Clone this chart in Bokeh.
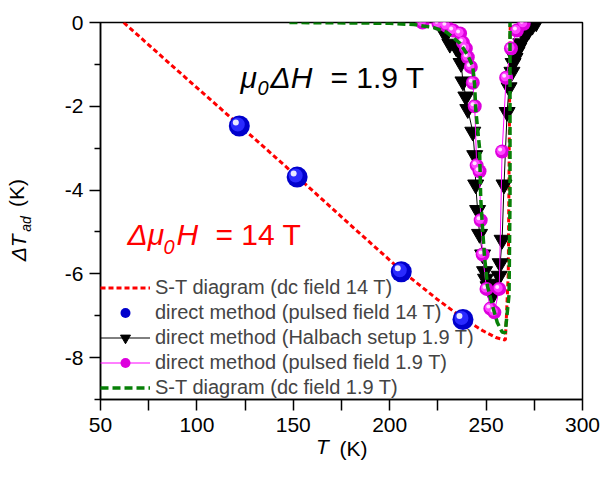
import math
from bokeh.plotting import figure
from bokeh.models import Range1d, Label, Legend, LegendItem, FixedTicker, LinearAxis
from bokeh.embed import file_html
from bokeh.resources import INLINE

# ---------------- data ----------------
# S-T diagram, dc field 14 T
red_T = [62, 90, 122, 152, 180, 206, 225, 238, 248, 255, 260, 261.5, 262, 262.5]
red_dT = [0, -1.15, -2.45, -3.68, -4.85, -5.92, -6.62, -7.06, -7.35, -7.52, -7.58, -6.0, -3.0, 0]

# direct method, pulsed field 14 T
blue_T = [122, 152, 206, 238]
blue_dT = [-2.47, -3.69, -5.95, -7.09]

# direct method, Halbach setup 1.9 T
black_T = [229, 231.2, 234.4, 236.5, 237.0, 238.0, 239.5, 240.5, 243.1, 244.1, 244.6, 245.6,
           246.6, 248.2, 249.2, 249.7, 251.0, 253.3, 254.3, 256.8, 257.3, 258.3, 259.3, 260.9,
           261.9, 263.4, 264.0, 265.0, 266.0, 267.0, 268.0, 270.0, 272.0, 274.0, 276.0]
black_dT = [-0.3, -0.51, -0.59, -0.73, -0.97, -1.41, -1.77, -2.07, -2.61, -3.17, -3.87, -4.48,
            -5.05, -5.54, -5.94, -6.12, -6.3, -6.52, -6.24, -6.05, -5.75, -5.19, -3.87, -2.14,
            -1.55, -1.18, -0.97, -0.85, -0.7, -0.6, -0.5, -0.33, -0.2, -0.08, 0]

# direct method, pulsed field 1.9 T
mag_T = [217, 225.3, 229.4, 232.9, 236.5, 238.0, 239.5, 240.5, 242.1, 243.1, 244.1, 245.1,
         246.6, 247.2, 248.2, 250.2, 252.2, 254.3, 256.8, 258.3, 260.4, 262.9, 266.0, 269.5]
mag_dT = [0, -0.03, -0.08, -0.19, -0.26, -0.48, -0.62, -0.83, -1.06, -1.44, -2.0, -3.41,
          -3.55, -4.72, -5.54, -6.36, -6.83, -6.92, -6.36, -3.08, -1.32, -0.62, -0.19, -0.03]

# S-T diagram, dc field 1.9 T
green_T = [148, 180, 200, 212.6, 222.8, 229.4, 236.5, 240.5, 243.1, 244.1, 244.6, 246.6, 247.2,
           248.2, 249.2, 250.7, 253.3, 255.8, 258.3, 259.9, 261.9, 262.4, 262.4, 262.4]
green_dT = [0, -0.01, -0.02, -0.05, -0.12, -0.23, -0.5, -0.78, -1.05, -1.52, -2.07, -3.0, -4.18,
            -4.95, -5.59, -6.29, -6.76, -7.16, -7.39, -7.41, -6.5, -4.18, -1.84, 0]

x_ticks = [50, 100, 150, 200, 250, 300]
x_minor = [75, 125, 175, 225, 275]
y_ticks = [0, -2, -4, -6, -8]
y_minor = [-1, -3, -5, -7, -9]

labels = ["S-T diagram (dc field 14 T)",
          "direct method (pulsed field 14 T)",
          "direct method (Halbach setup 1.9 T)",
          "direct method (pulsed field 1.9 T)",
          "S-T diagram (dc field 1.9 T)"]

# ---------------- figure ----------------
W, H = 600, 462
BL, BR, BT, BB = 100, 18, 22, 62
X0, X1, Y0, Y1 = 50, 300, -9, 0
FW, FH = W - BL - BR, H - BT - BB
kx = (X1 - X0) / FW   # data per px
ky = (Y1 - Y0) / FH

FONT = "Liberation Sans"

p = figure(width=W, height=H, x_range=Range1d(X0, X1), y_range=Range1d(Y0, Y1),
           output_backend="svg", toolbar_location=None,
           min_border_left=BL, min_border_right=BR, min_border_top=BT, min_border_bottom=BB)
p.xgrid.visible = False
p.ygrid.visible = False
p.outline_line_color = "black"
p.outline_line_width = 1.5
p.background_fill_color = "white"
p.border_fill_color = "white"

p.xaxis.ticker = FixedTicker(ticks=x_ticks, minor_ticks=x_minor)
p.yaxis.ticker = FixedTicker(ticks=y_ticks, minor_ticks=y_minor)
p.xaxis.major_label_overrides = {float(t): str(t) for t in x_ticks}
p.yaxis.major_label_overrides = {float(t): str(t) for t in y_ticks}
for ax in (p.xaxis, p.yaxis):
    ax.axis_line_width = 1.5
    ax.axis_line_color = "black"
    ax.major_tick_line_width = 1.5
    ax.minor_tick_line_width = 1.5
    ax.major_tick_line_color = "black"
    ax.minor_tick_line_color = "black"
    ax.major_tick_in = 0
    ax.minor_tick_in = 0
    ax.major_tick_out = 11
    ax.major_label_text_font = FONT
    ax.major_label_text_font_size = "21px"
    ax.major_label_text_color = "black"
p.xaxis.minor_tick_out = 11
p.yaxis.minor_tick_out = 6
p.xaxis.major_label_standoff = 7
p.yaxis.major_label_standoff = 6

# pixel helpers for text placement
def px2x(px):
    return round(X0 + (px - BL) * kx, 3)

def py2y(py):
    return round(Y1 - (py - BT) * ky, 3)

# ---------------- glyphs ----------------
r_red = p.line(red_T, red_dT, line_color="#ff0000", line_width=3, line_dash="5 3")

r_blue = p.scatter(blue_T, blue_dT, marker="circle", size=21, fill_color="#0000cc", line_color=None)
p.scatter([t - 1.5 * kx for t in blue_T], [v + 1.5 * ky for v in blue_dT], marker="circle",
          size=14, fill_color="#2a2aff", line_color=None)
p.scatter([t - 3.5 * kx for t in blue_T], [v + 3.5 * ky for v in blue_dT], marker="circle",
          size=6, fill_color="#e8e8ff", line_color=None)

r_bl_line = p.line(black_T, black_dT, line_color="black", line_width=1)
r_bl_mk = p.scatter(black_T, black_dT, marker="inverted_triangle", size=16,
                    fill_color="black", line_color="black")

r_mg_line = p.line(mag_T, mag_dT, line_color="#ff00ff", line_width=1)
r_mg_mk = p.scatter(mag_T, mag_dT, marker="circle", size=14, fill_color="#dd00dd", line_color=None)
p.scatter([t - 1 * kx for t in mag_T], [v + 1 * ky for v in mag_dT], marker="circle",
          size=9, fill_color="#ff44ff", line_color=None)
p.scatter([t - 2 * kx for t in mag_T], [v + 2 * ky for v in mag_dT], marker="circle",
          size=4, fill_color="#ffe0ff", line_color=None)

r_green = p.line(green_T, green_dT, line_color="#078007", line_width=3.5, line_dash="8 4")

legend = Legend(items=[
    LegendItem(label=labels[0], renderers=[r_red]),
    LegendItem(label=labels[1], renderers=[r_blue]),
    LegendItem(label=labels[2], renderers=[r_bl_line, r_bl_mk]),
    LegendItem(label=labels[3], renderers=[r_mg_line, r_mg_mk]),
    LegendItem(label=labels[4], renderers=[r_green]),
], location=(0, -1), padding=0, margin=0, spacing=0, glyph_width=50, glyph_height=25,
    label_height=25, label_standoff=5, label_text_font=FONT, label_text_font_size="20px",
    border_line_alpha=0, background_fill_alpha=0)
p.add_layout(legend, "center")

# ---------------- in-plot texts ----------------
def lab(text, px, py, size, color="black", style="normal"):
    p.add_layout(Label(x=px2x(px), y=py2y(py), text=text, text_font=FONT,
                       text_font_size=f"{size}px", text_color=color,
                       text_font_style=style, text_baseline="alphabetic",
                       text_align="left"))

# mu0 Delta H = 1.9 T
lab("\u03bc", 240, 77, 30, style="italic")
lab("0", 257, 88, 20, style="italic")
lab("\u0394H", 270, 77, 30, style="italic")
lab("= 1.9 T", 330, 77, 30)

# Delta mu0 H = 14 T
lab("\u0394\u03bc", 127, 235, 30, color="#ff0000", style="italic")
lab("0", 163, 247, 20, color="#ff0000", style="italic")
lab("H", 176, 235, 30, color="#ff0000", style="italic")
lab("= 14 T", 215, 235, 30, color="#ff0000")

# ---------------- axis titles built from tick-label-only axes ----------------
def label_axis(side, pos, text, size, style, standoff, orient="horizontal"):
    ax = LinearAxis(ticker=FixedTicker(ticks=[pos], minor_ticks=[]),
                    major_label_overrides={pos: text})
    ax.axis_line_color = None
    ax.major_tick_line_color = None
    ax.minor_tick_line_color = None
    ax.major_tick_out = 0
    ax.major_tick_in = 0
    ax.minor_tick_out = 0
    ax.minor_tick_in = 0
    ax.major_label_text_font = FONT
    ax.major_label_text_font_size = f"{size}px"
    ax.major_label_text_font_style = style
    ax.major_label_text_color = "black"
    ax.major_label_standoff = standoff
    ax.major_label_orientation = orient
    p.add_layout(ax, side)

# x title: "T (K)"
label_axis("below", px2x(322), "T", 21, "italic", 0)
label_axis("below", px2x(353), "(K)", 21, "normal", -24)

# y title: "ΔT_ad (K)" (rotated)
label_axis("left", py2y(224), "ad", 14, "italic", 27, "vertical")
label_axis("left", py2y(248), "\u0394T", 21, "italic", -15, "vertical")
label_axis("left", py2y(193), "(K)", 21, "normal", -24, "vertical")

open("out.html", "w").write(file_html(p, INLINE))
